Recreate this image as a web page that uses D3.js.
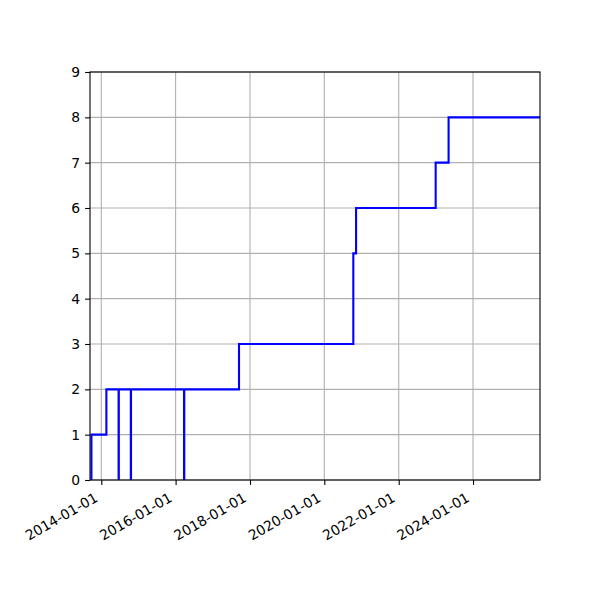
<!DOCTYPE html>
<html lang="en">
<head>
<meta charset="UTF-8">
<title>step</title>
<script src="https://d3js.org/d3.v7.min.js"></script>
<style>
  body { margin: 0; background: #fff; }
  text { font-family: "DejaVu Sans", sans-serif; }
</style>
</head>
<body>
<svg width="600" height="600"></svg>
<script>
// step events (date when value changes) and the value after it
var dates = ["2013-09-25", "2013-09-26", "2014-02-20", "2014-06-20", "2014-06-22",
             "2014-10-18", "2014-10-20", "2016-03-24", "2016-03-26", "2017-09-15",
             "2020-10-12", "2020-11-08", "2022-12-30", "2023-05-06", "2025-10-20"];
var values = [0, 1, 2, 0, 2, 0, 2, 0, 2, 3, 5, 6, 7, 8, 8];

var xDomain = ["2013-09-12", "2025-10-20"];
var xTicks = ["2014-01-01", "2016-01-01", "2018-01-01", "2020-01-01", "2022-01-01", "2024-01-01"];
var yTicks = [0, 1, 2, 3, 4, 5, 6, 7, 8, 9];

var parse = d3.utcParse("%Y-%m-%d");
var fmt = d3.utcFormat("%Y-%m-%d");

var mLeft = 90, mRight = 540, mTop = 72, mBottom = 480;
var fs = 13.9;

var x = d3.scaleUtc().domain(xDomain.map(parse)).range([mLeft, mRight]);
var y = d3.scaleLinear().domain([0, 9]).range([mBottom, mTop]);

var svg = d3.select("svg");

// grid
svg.append("g").selectAll("line").data(xTicks.map(parse)).enter().append("line")
    .attr("x1", function (d) { return x(d); }).attr("x2", function (d) { return x(d); })
    .attr("y1", mTop).attr("y2", mBottom)
    .attr("stroke", "#b0b0b0").attr("stroke-width", 1.1);
svg.append("g").selectAll("line").data(yTicks).enter().append("line")
    .attr("x1", mLeft).attr("x2", mRight)
    .attr("y1", function (d) { return y(d); }).attr("y2", function (d) { return y(d); })
    .attr("stroke", "#b0b0b0").attr("stroke-width", 1.1);

// line
svg.append("clipPath").attr("id", "clip").append("rect")
    .attr("x", mLeft).attr("y", mTop).attr("width", mRight - mLeft).attr("height", mBottom - mTop);

var pts = dates.map(function (d, i) { return [parse(d), values[i]]; });
var line = d3.line()
    .x(function (d) { return x(d[0]); })
    .y(function (d) { return y(d[1]); })
    .curve(d3.curveStepAfter);

svg.append("path").datum(pts)
    .attr("clip-path", "url(#clip)")
    .attr("d", line)
    .attr("fill", "none")
    .attr("stroke", "#0000ff")
    .attr("stroke-width", 2.1)
    .attr("stroke-linejoin", "miter");

// axes
var axisX = d3.axisBottom(x).tickValues(xTicks.map(parse)).tickSize(4.9).tickPadding(4.9).tickFormat(fmt);
var gx = svg.append("g").attr("transform", "translate(0," + mBottom + ")").call(axisX);
gx.select(".domain").remove();
gx.selectAll(".tick line").attr("stroke", "#000").attr("stroke-width", 1.1);
gx.selectAll(".tick text")
    .attr("font-size", fs)
    .attr("fill", "#000")
    .attr("text-anchor", "end")
    .attr("dy", null)
    .attr("y", 0)
    .attr("transform", "translate(-3,20.5) rotate(-30)");

var axisY = d3.axisLeft(y).tickValues(yTicks).tickSize(4.9).tickPadding(4.9).tickFormat(d3.format("d"));
var gy = svg.append("g").attr("transform", "translate(" + mLeft + ",0)").call(axisY);
gy.select(".domain").remove();
gy.selectAll(".tick line").attr("stroke", "#000").attr("stroke-width", 1.1);
gy.selectAll(".tick text").attr("font-size", fs).attr("fill", "#000");

// spines
svg.append("rect")
    .attr("x", mLeft).attr("y", mTop).attr("width", mRight - mLeft).attr("height", mBottom - mTop)
    .attr("fill", "none").attr("stroke", "#000").attr("stroke-width", 1.1);
</script>
</body>
</html>
